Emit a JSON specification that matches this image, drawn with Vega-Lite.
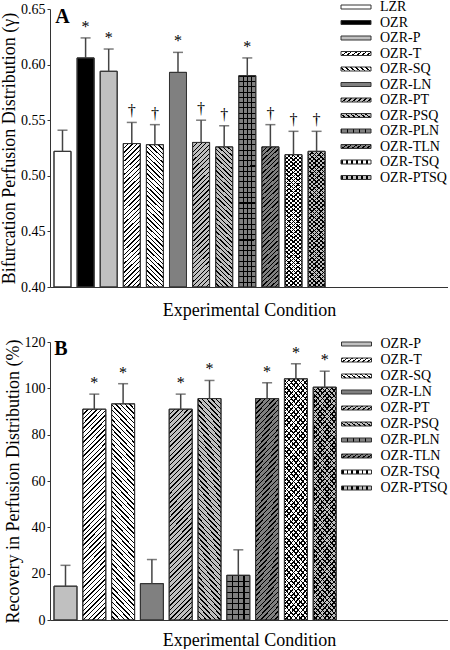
{
"$schema": "https://vega.github.io/schema/vega-lite/v6.json",
"padding": {"left": 0, "top": 0, "right": 0, "bottom": 0},
"bounds": "flush",
"spacing": 55,
"config": {"view": {"stroke": null}, "font": "Liberation Serif", "axis": {"grid": false}},
"params": [
{"name": "gS", "value": {"gradient": "linear", "x1": 0, "y1": 0, "x2": 0.1281, "y2": 1.1014, "stops": [
{"offset":0,"color":"#000"},{"offset":0.0083,"color":"#000"},{"offset":0.0083,"color":"#0000"},{"offset":0.0278,"color":"#0000"},
{"offset":0.0278,"color":"#000"},{"offset":0.0361,"color":"#000"},{"offset":0.0361,"color":"#0000"},{"offset":0.0556,"color":"#0000"},
{"offset":0.0556,"color":"#000"},{"offset":0.0639,"color":"#000"},{"offset":0.0639,"color":"#0000"},{"offset":0.0833,"color":"#0000"},
{"offset":0.0833,"color":"#000"},{"offset":0.0917,"color":"#000"},{"offset":0.0917,"color":"#0000"},{"offset":0.1111,"color":"#0000"},
{"offset":0.1111,"color":"#000"},{"offset":0.1194,"color":"#000"},{"offset":0.1194,"color":"#0000"},{"offset":0.1389,"color":"#0000"},
{"offset":0.1389,"color":"#000"},{"offset":0.1472,"color":"#000"},{"offset":0.1472,"color":"#0000"},{"offset":0.1667,"color":"#0000"},
{"offset":0.1667,"color":"#000"},{"offset":0.175,"color":"#000"},{"offset":0.175,"color":"#0000"},{"offset":0.1944,"color":"#0000"},
{"offset":0.1944,"color":"#000"},{"offset":0.2028,"color":"#000"},{"offset":0.2028,"color":"#0000"},{"offset":0.2222,"color":"#0000"},
{"offset":0.2222,"color":"#000"},{"offset":0.2306,"color":"#000"},{"offset":0.2306,"color":"#0000"},{"offset":0.25,"color":"#0000"},
{"offset":0.25,"color":"#000"},{"offset":0.2583,"color":"#000"},{"offset":0.2583,"color":"#0000"},{"offset":0.2778,"color":"#0000"},
{"offset":0.2778,"color":"#000"},{"offset":0.2861,"color":"#000"},{"offset":0.2861,"color":"#0000"},{"offset":0.3056,"color":"#0000"},
{"offset":0.3056,"color":"#000"},{"offset":0.3139,"color":"#000"},{"offset":0.3139,"color":"#0000"},{"offset":0.3333,"color":"#0000"},
{"offset":0.3333,"color":"#000"},{"offset":0.3417,"color":"#000"},{"offset":0.3417,"color":"#0000"},{"offset":0.3611,"color":"#0000"},
{"offset":0.3611,"color":"#000"},{"offset":0.3694,"color":"#000"},{"offset":0.3694,"color":"#0000"},{"offset":0.3889,"color":"#0000"},
{"offset":0.3889,"color":"#000"},{"offset":0.3972,"color":"#000"},{"offset":0.3972,"color":"#0000"},{"offset":0.4167,"color":"#0000"},
{"offset":0.4167,"color":"#000"},{"offset":0.425,"color":"#000"},{"offset":0.425,"color":"#0000"},{"offset":0.4444,"color":"#0000"},
{"offset":0.4444,"color":"#000"},{"offset":0.4528,"color":"#000"},{"offset":0.4528,"color":"#0000"},{"offset":0.4722,"color":"#0000"},
{"offset":0.4722,"color":"#000"},{"offset":0.4806,"color":"#000"},{"offset":0.4806,"color":"#0000"},{"offset":0.5,"color":"#0000"},
{"offset":0.5,"color":"#000"},{"offset":0.5083,"color":"#000"},{"offset":0.5083,"color":"#0000"},{"offset":0.5278,"color":"#0000"},
{"offset":0.5278,"color":"#000"},{"offset":0.5361,"color":"#000"},{"offset":0.5361,"color":"#0000"},{"offset":0.5556,"color":"#0000"},
{"offset":0.5556,"color":"#000"},{"offset":0.5639,"color":"#000"},{"offset":0.5639,"color":"#0000"},{"offset":0.5833,"color":"#0000"},
{"offset":0.5833,"color":"#000"},{"offset":0.5917,"color":"#000"},{"offset":0.5917,"color":"#0000"},{"offset":0.6111,"color":"#0000"},
{"offset":0.6111,"color":"#000"},{"offset":0.6194,"color":"#000"},{"offset":0.6194,"color":"#0000"},{"offset":0.6389,"color":"#0000"},
{"offset":0.6389,"color":"#000"},{"offset":0.6472,"color":"#000"},{"offset":0.6472,"color":"#0000"},{"offset":0.6667,"color":"#0000"},
{"offset":0.6667,"color":"#000"},{"offset":0.675,"color":"#000"},{"offset":0.675,"color":"#0000"},{"offset":0.6944,"color":"#0000"},
{"offset":0.6944,"color":"#000"},{"offset":0.7028,"color":"#000"},{"offset":0.7028,"color":"#0000"},{"offset":0.7222,"color":"#0000"},
{"offset":0.7222,"color":"#000"},{"offset":0.7306,"color":"#000"},{"offset":0.7306,"color":"#0000"},{"offset":0.75,"color":"#0000"},
{"offset":0.75,"color":"#000"},{"offset":0.7583,"color":"#000"},{"offset":0.7583,"color":"#0000"},{"offset":0.7778,"color":"#0000"},
{"offset":0.7778,"color":"#000"},{"offset":0.7861,"color":"#000"},{"offset":0.7861,"color":"#0000"},{"offset":0.8056,"color":"#0000"},
{"offset":0.8056,"color":"#000"},{"offset":0.8139,"color":"#000"},{"offset":0.8139,"color":"#0000"},{"offset":0.8333,"color":"#0000"},
{"offset":0.8333,"color":"#000"},{"offset":0.8417,"color":"#000"},{"offset":0.8417,"color":"#0000"},{"offset":0.8611,"color":"#0000"},
{"offset":0.8611,"color":"#000"},{"offset":0.8694,"color":"#000"},{"offset":0.8694,"color":"#0000"},{"offset":0.8889,"color":"#0000"},
{"offset":0.8889,"color":"#000"},{"offset":0.8972,"color":"#000"},{"offset":0.8972,"color":"#0000"},{"offset":0.9167,"color":"#0000"},
{"offset":0.9167,"color":"#000"},{"offset":0.925,"color":"#000"},{"offset":0.925,"color":"#0000"},{"offset":0.9444,"color":"#0000"},
{"offset":0.9444,"color":"#000"},{"offset":0.9528,"color":"#000"},{"offset":0.9528,"color":"#0000"},{"offset":0.9722,"color":"#0000"},
{"offset":0.9722,"color":"#000"},{"offset":0.9806,"color":"#000"},{"offset":0.9806,"color":"#0000"},{"offset":1,"color":"#0000"}
]}},
{"name": "gB", "expr": "{gradient:'linear',x1:1,y1:0,x2:0.8719,y2:1.1014,stops:gS.stops}"},
{"name": "gSB", "value": {"gradient": "linear", "x1": 0, "y1": 0, "x2": 0.1205, "y2": 1.0966, "stops": [
{"offset":0,"color":"#000"},{"offset":0.006,"color":"#000"},{"offset":0.006,"color":"#0000"},{"offset":0.02,"color":"#0000"},
{"offset":0.02,"color":"#000"},{"offset":0.026,"color":"#000"},{"offset":0.026,"color":"#0000"},{"offset":0.04,"color":"#0000"},
{"offset":0.04,"color":"#000"},{"offset":0.046,"color":"#000"},{"offset":0.046,"color":"#0000"},{"offset":0.06,"color":"#0000"},
{"offset":0.06,"color":"#000"},{"offset":0.066,"color":"#000"},{"offset":0.066,"color":"#0000"},{"offset":0.08,"color":"#0000"},
{"offset":0.08,"color":"#000"},{"offset":0.086,"color":"#000"},{"offset":0.086,"color":"#0000"},{"offset":0.1,"color":"#0000"},
{"offset":0.1,"color":"#000"},{"offset":0.106,"color":"#000"},{"offset":0.106,"color":"#0000"},{"offset":0.12,"color":"#0000"},
{"offset":0.12,"color":"#000"},{"offset":0.126,"color":"#000"},{"offset":0.126,"color":"#0000"},{"offset":0.14,"color":"#0000"},
{"offset":0.14,"color":"#000"},{"offset":0.146,"color":"#000"},{"offset":0.146,"color":"#0000"},{"offset":0.16,"color":"#0000"},
{"offset":0.16,"color":"#000"},{"offset":0.166,"color":"#000"},{"offset":0.166,"color":"#0000"},{"offset":0.18,"color":"#0000"},
{"offset":0.18,"color":"#000"},{"offset":0.186,"color":"#000"},{"offset":0.186,"color":"#0000"},{"offset":0.2,"color":"#0000"},
{"offset":0.2,"color":"#000"},{"offset":0.206,"color":"#000"},{"offset":0.206,"color":"#0000"},{"offset":0.22,"color":"#0000"},
{"offset":0.22,"color":"#000"},{"offset":0.226,"color":"#000"},{"offset":0.226,"color":"#0000"},{"offset":0.24,"color":"#0000"},
{"offset":0.24,"color":"#000"},{"offset":0.246,"color":"#000"},{"offset":0.246,"color":"#0000"},{"offset":0.26,"color":"#0000"},
{"offset":0.26,"color":"#000"},{"offset":0.266,"color":"#000"},{"offset":0.266,"color":"#0000"},{"offset":0.28,"color":"#0000"},
{"offset":0.28,"color":"#000"},{"offset":0.286,"color":"#000"},{"offset":0.286,"color":"#0000"},{"offset":0.3,"color":"#0000"},
{"offset":0.3,"color":"#000"},{"offset":0.306,"color":"#000"},{"offset":0.306,"color":"#0000"},{"offset":0.32,"color":"#0000"},
{"offset":0.32,"color":"#000"},{"offset":0.326,"color":"#000"},{"offset":0.326,"color":"#0000"},{"offset":0.34,"color":"#0000"},
{"offset":0.34,"color":"#000"},{"offset":0.346,"color":"#000"},{"offset":0.346,"color":"#0000"},{"offset":0.36,"color":"#0000"},
{"offset":0.36,"color":"#000"},{"offset":0.366,"color":"#000"},{"offset":0.366,"color":"#0000"},{"offset":0.38,"color":"#0000"},
{"offset":0.38,"color":"#000"},{"offset":0.386,"color":"#000"},{"offset":0.386,"color":"#0000"},{"offset":0.4,"color":"#0000"},
{"offset":0.4,"color":"#000"},{"offset":0.406,"color":"#000"},{"offset":0.406,"color":"#0000"},{"offset":0.42,"color":"#0000"},
{"offset":0.42,"color":"#000"},{"offset":0.426,"color":"#000"},{"offset":0.426,"color":"#0000"},{"offset":0.44,"color":"#0000"},
{"offset":0.44,"color":"#000"},{"offset":0.446,"color":"#000"},{"offset":0.446,"color":"#0000"},{"offset":0.46,"color":"#0000"},
{"offset":0.46,"color":"#000"},{"offset":0.466,"color":"#000"},{"offset":0.466,"color":"#0000"},{"offset":0.48,"color":"#0000"},
{"offset":0.48,"color":"#000"},{"offset":0.486,"color":"#000"},{"offset":0.486,"color":"#0000"},{"offset":0.5,"color":"#0000"},
{"offset":0.5,"color":"#000"},{"offset":0.506,"color":"#000"},{"offset":0.506,"color":"#0000"},{"offset":0.52,"color":"#0000"},
{"offset":0.52,"color":"#000"},{"offset":0.526,"color":"#000"},{"offset":0.526,"color":"#0000"},{"offset":0.54,"color":"#0000"},
{"offset":0.54,"color":"#000"},{"offset":0.546,"color":"#000"},{"offset":0.546,"color":"#0000"},{"offset":0.56,"color":"#0000"},
{"offset":0.56,"color":"#000"},{"offset":0.566,"color":"#000"},{"offset":0.566,"color":"#0000"},{"offset":0.58,"color":"#0000"},
{"offset":0.58,"color":"#000"},{"offset":0.586,"color":"#000"},{"offset":0.586,"color":"#0000"},{"offset":0.6,"color":"#0000"},
{"offset":0.6,"color":"#000"},{"offset":0.606,"color":"#000"},{"offset":0.606,"color":"#0000"},{"offset":0.62,"color":"#0000"},
{"offset":0.62,"color":"#000"},{"offset":0.626,"color":"#000"},{"offset":0.626,"color":"#0000"},{"offset":0.64,"color":"#0000"},
{"offset":0.64,"color":"#000"},{"offset":0.646,"color":"#000"},{"offset":0.646,"color":"#0000"},{"offset":0.66,"color":"#0000"},
{"offset":0.66,"color":"#000"},{"offset":0.666,"color":"#000"},{"offset":0.666,"color":"#0000"},{"offset":0.68,"color":"#0000"},
{"offset":0.68,"color":"#000"},{"offset":0.686,"color":"#000"},{"offset":0.686,"color":"#0000"},{"offset":0.7,"color":"#0000"},
{"offset":0.7,"color":"#000"},{"offset":0.706,"color":"#000"},{"offset":0.706,"color":"#0000"},{"offset":0.72,"color":"#0000"},
{"offset":0.72,"color":"#000"},{"offset":0.726,"color":"#000"},{"offset":0.726,"color":"#0000"},{"offset":0.74,"color":"#0000"},
{"offset":0.74,"color":"#000"},{"offset":0.746,"color":"#000"},{"offset":0.746,"color":"#0000"},{"offset":0.76,"color":"#0000"},
{"offset":0.76,"color":"#000"},{"offset":0.766,"color":"#000"},{"offset":0.766,"color":"#0000"},{"offset":0.78,"color":"#0000"},
{"offset":0.78,"color":"#000"},{"offset":0.786,"color":"#000"},{"offset":0.786,"color":"#0000"},{"offset":0.8,"color":"#0000"},
{"offset":0.8,"color":"#000"},{"offset":0.806,"color":"#000"},{"offset":0.806,"color":"#0000"},{"offset":0.82,"color":"#0000"},
{"offset":0.82,"color":"#000"},{"offset":0.826,"color":"#000"},{"offset":0.826,"color":"#0000"},{"offset":0.84,"color":"#0000"},
{"offset":0.84,"color":"#000"},{"offset":0.846,"color":"#000"},{"offset":0.846,"color":"#0000"},{"offset":0.86,"color":"#0000"},
{"offset":0.86,"color":"#000"},{"offset":0.866,"color":"#000"},{"offset":0.866,"color":"#0000"},{"offset":0.88,"color":"#0000"},
{"offset":0.88,"color":"#000"},{"offset":0.886,"color":"#000"},{"offset":0.886,"color":"#0000"},{"offset":0.9,"color":"#0000"},
{"offset":0.9,"color":"#000"},{"offset":0.906,"color":"#000"},{"offset":0.906,"color":"#0000"},{"offset":0.92,"color":"#0000"},
{"offset":0.92,"color":"#000"},{"offset":0.926,"color":"#000"},{"offset":0.926,"color":"#0000"},{"offset":0.94,"color":"#0000"},
{"offset":0.94,"color":"#000"},{"offset":0.946,"color":"#000"},{"offset":0.946,"color":"#0000"},{"offset":0.96,"color":"#0000"},
{"offset":0.96,"color":"#000"},{"offset":0.966,"color":"#000"},{"offset":0.966,"color":"#0000"},{"offset":0.98,"color":"#0000"},
{"offset":0.98,"color":"#000"},{"offset":0.986,"color":"#000"},{"offset":0.986,"color":"#0000"},{"offset":1,"color":"#0000"}
]}},
{"name": "gBB", "expr": "{gradient:'linear',x1:1,y1:0,x2:0.8795,y2:1.0966,stops:gSB.stops}"},
{"name": "gV", "value": {"gradient": "linear", "x1": 0, "y1": 0, "x2": 1, "y2": 0, "stops": [
{"offset":0,"color":"#0000"},{"offset":0.22,"color":"#0000"},{"offset":0.22,"color":"#000"},{"offset":0.28,"color":"#000"},{"offset":0.28,"color":"#0000"},
{"offset":0.47,"color":"#0000"},{"offset":0.47,"color":"#000"},{"offset":0.53,"color":"#000"},{"offset":0.53,"color":"#0000"},
{"offset":0.72,"color":"#0000"},{"offset":0.72,"color":"#000"},{"offset":0.78,"color":"#000"},{"offset":0.78,"color":"#0000"},{"offset":1,"color":"#0000"}
]}},
{"name": "gHA", "value": {"gradient": "linear", "x1": 0, "y1": 0, "x2": 0.0001, "y2": 1, "stops": [
{"offset":0,"color":"#000"},{"offset":0.005,"color":"#000"},{"offset":0.005,"color":"#0000"},{"offset":0.025,"color":"#0000"},
{"offset":0.025,"color":"#000"},{"offset":0.03,"color":"#000"},{"offset":0.03,"color":"#0000"},{"offset":0.05,"color":"#0000"},
{"offset":0.05,"color":"#000"},{"offset":0.055,"color":"#000"},{"offset":0.055,"color":"#0000"},{"offset":0.075,"color":"#0000"},
{"offset":0.075,"color":"#000"},{"offset":0.08,"color":"#000"},{"offset":0.08,"color":"#0000"},{"offset":0.1,"color":"#0000"},
{"offset":0.1,"color":"#000"},{"offset":0.105,"color":"#000"},{"offset":0.105,"color":"#0000"},{"offset":0.125,"color":"#0000"},
{"offset":0.125,"color":"#000"},{"offset":0.13,"color":"#000"},{"offset":0.13,"color":"#0000"},{"offset":0.15,"color":"#0000"},
{"offset":0.15,"color":"#000"},{"offset":0.155,"color":"#000"},{"offset":0.155,"color":"#0000"},{"offset":0.175,"color":"#0000"},
{"offset":0.175,"color":"#000"},{"offset":0.18,"color":"#000"},{"offset":0.18,"color":"#0000"},{"offset":0.2,"color":"#0000"},
{"offset":0.2,"color":"#000"},{"offset":0.205,"color":"#000"},{"offset":0.205,"color":"#0000"},{"offset":0.225,"color":"#0000"},
{"offset":0.225,"color":"#000"},{"offset":0.23,"color":"#000"},{"offset":0.23,"color":"#0000"},{"offset":0.25,"color":"#0000"},
{"offset":0.25,"color":"#000"},{"offset":0.255,"color":"#000"},{"offset":0.255,"color":"#0000"},{"offset":0.275,"color":"#0000"},
{"offset":0.275,"color":"#000"},{"offset":0.28,"color":"#000"},{"offset":0.28,"color":"#0000"},{"offset":0.3,"color":"#0000"},
{"offset":0.3,"color":"#000"},{"offset":0.305,"color":"#000"},{"offset":0.305,"color":"#0000"},{"offset":0.325,"color":"#0000"},
{"offset":0.325,"color":"#000"},{"offset":0.33,"color":"#000"},{"offset":0.33,"color":"#0000"},{"offset":0.35,"color":"#0000"},
{"offset":0.35,"color":"#000"},{"offset":0.355,"color":"#000"},{"offset":0.355,"color":"#0000"},{"offset":0.375,"color":"#0000"},
{"offset":0.375,"color":"#000"},{"offset":0.38,"color":"#000"},{"offset":0.38,"color":"#0000"},{"offset":0.4,"color":"#0000"},
{"offset":0.4,"color":"#000"},{"offset":0.405,"color":"#000"},{"offset":0.405,"color":"#0000"},{"offset":0.425,"color":"#0000"},
{"offset":0.425,"color":"#000"},{"offset":0.43,"color":"#000"},{"offset":0.43,"color":"#0000"},{"offset":0.45,"color":"#0000"},
{"offset":0.45,"color":"#000"},{"offset":0.455,"color":"#000"},{"offset":0.455,"color":"#0000"},{"offset":0.475,"color":"#0000"},
{"offset":0.475,"color":"#000"},{"offset":0.48,"color":"#000"},{"offset":0.48,"color":"#0000"},{"offset":0.5,"color":"#0000"},
{"offset":0.5,"color":"#000"},{"offset":0.505,"color":"#000"},{"offset":0.505,"color":"#0000"},{"offset":0.525,"color":"#0000"},
{"offset":0.525,"color":"#000"},{"offset":0.53,"color":"#000"},{"offset":0.53,"color":"#0000"},{"offset":0.55,"color":"#0000"},
{"offset":0.55,"color":"#000"},{"offset":0.555,"color":"#000"},{"offset":0.555,"color":"#0000"},{"offset":0.575,"color":"#0000"},
{"offset":0.575,"color":"#000"},{"offset":0.58,"color":"#000"},{"offset":0.58,"color":"#0000"},{"offset":0.6,"color":"#0000"},
{"offset":0.6,"color":"#000"},{"offset":0.605,"color":"#000"},{"offset":0.605,"color":"#0000"},{"offset":0.625,"color":"#0000"},
{"offset":0.625,"color":"#000"},{"offset":0.63,"color":"#000"},{"offset":0.63,"color":"#0000"},{"offset":0.65,"color":"#0000"},
{"offset":0.65,"color":"#000"},{"offset":0.655,"color":"#000"},{"offset":0.655,"color":"#0000"},{"offset":0.675,"color":"#0000"},
{"offset":0.675,"color":"#000"},{"offset":0.68,"color":"#000"},{"offset":0.68,"color":"#0000"},{"offset":0.7,"color":"#0000"},
{"offset":0.7,"color":"#000"},{"offset":0.705,"color":"#000"},{"offset":0.705,"color":"#0000"},{"offset":0.725,"color":"#0000"},
{"offset":0.725,"color":"#000"},{"offset":0.73,"color":"#000"},{"offset":0.73,"color":"#0000"},{"offset":0.75,"color":"#0000"},
{"offset":0.75,"color":"#000"},{"offset":0.755,"color":"#000"},{"offset":0.755,"color":"#0000"},{"offset":0.775,"color":"#0000"},
{"offset":0.775,"color":"#000"},{"offset":0.78,"color":"#000"},{"offset":0.78,"color":"#0000"},{"offset":0.8,"color":"#0000"},
{"offset":0.8,"color":"#000"},{"offset":0.805,"color":"#000"},{"offset":0.805,"color":"#0000"},{"offset":0.825,"color":"#0000"},
{"offset":0.825,"color":"#000"},{"offset":0.83,"color":"#000"},{"offset":0.83,"color":"#0000"},{"offset":0.85,"color":"#0000"},
{"offset":0.85,"color":"#000"},{"offset":0.855,"color":"#000"},{"offset":0.855,"color":"#0000"},{"offset":0.875,"color":"#0000"},
{"offset":0.875,"color":"#000"},{"offset":0.88,"color":"#000"},{"offset":0.88,"color":"#0000"},{"offset":0.9,"color":"#0000"},
{"offset":0.9,"color":"#000"},{"offset":0.905,"color":"#000"},{"offset":0.905,"color":"#0000"},{"offset":0.925,"color":"#0000"},
{"offset":0.925,"color":"#000"},{"offset":0.93,"color":"#000"},{"offset":0.93,"color":"#0000"},{"offset":0.95,"color":"#0000"},
{"offset":0.95,"color":"#000"},{"offset":0.955,"color":"#000"},{"offset":0.955,"color":"#0000"},{"offset":0.975,"color":"#0000"},
{"offset":0.975,"color":"#000"},{"offset":0.98,"color":"#000"},{"offset":0.98,"color":"#0000"},{"offset":1,"color":"#0000"}
]}},
{"name": "gHB", "value": {"gradient": "linear", "x1": 0, "y1": 0, "x2": 0.0001, "y2": 1, "stops": [
{"offset":0,"color":"#000"},{"offset":0.0225,"color":"#000"},{"offset":0.0225,"color":"#0000"},{"offset":0.125,"color":"#0000"},
{"offset":0.125,"color":"#000"},{"offset":0.1475,"color":"#000"},{"offset":0.1475,"color":"#0000"},{"offset":0.25,"color":"#0000"},
{"offset":0.25,"color":"#000"},{"offset":0.2725,"color":"#000"},{"offset":0.2725,"color":"#0000"},{"offset":0.375,"color":"#0000"},
{"offset":0.375,"color":"#000"},{"offset":0.3975,"color":"#000"},{"offset":0.3975,"color":"#0000"},{"offset":0.5,"color":"#0000"},
{"offset":0.5,"color":"#000"},{"offset":0.5225,"color":"#000"},{"offset":0.5225,"color":"#0000"},{"offset":0.625,"color":"#0000"},
{"offset":0.625,"color":"#000"},{"offset":0.6475,"color":"#000"},{"offset":0.6475,"color":"#0000"},{"offset":0.75,"color":"#0000"},
{"offset":0.75,"color":"#000"},{"offset":0.7725,"color":"#000"},{"offset":0.7725,"color":"#0000"},{"offset":0.875,"color":"#0000"},
{"offset":0.875,"color":"#000"},{"offset":0.8975,"color":"#000"},{"offset":0.8975,"color":"#0000"},{"offset":1,"color":"#0000"}
]}},
{"name": "lT", "value": {"gradient": "linear", "x1": 0, "y1": 0, "x2": 1.1351, "y2": 0.1892, "stops": [
{"offset":0,"color":"#000"},{"offset":0.05,"color":"#000"},{"offset":0.05,"color":"#fff"},{"offset":0.1429,"color":"#fff"},
{"offset":0.1429,"color":"#000"},{"offset":0.1929,"color":"#000"},{"offset":0.1929,"color":"#fff"},{"offset":0.2857,"color":"#fff"},
{"offset":0.2857,"color":"#000"},{"offset":0.3357,"color":"#000"},{"offset":0.3357,"color":"#fff"},{"offset":0.4286,"color":"#fff"},
{"offset":0.4286,"color":"#000"},{"offset":0.4786,"color":"#000"},{"offset":0.4786,"color":"#fff"},{"offset":0.5714,"color":"#fff"},
{"offset":0.5714,"color":"#000"},{"offset":0.6214,"color":"#000"},{"offset":0.6214,"color":"#fff"},{"offset":0.7143,"color":"#fff"},
{"offset":0.7143,"color":"#000"},{"offset":0.7643,"color":"#000"},{"offset":0.7643,"color":"#fff"},{"offset":0.8571,"color":"#fff"},
{"offset":0.8571,"color":"#000"},{"offset":0.9071,"color":"#000"},{"offset":0.9071,"color":"#fff"},{"offset":1,"color":"#fff"}
]}},
{"name": "lSQ", "expr": "{gradient:'linear',x1:1,y1:0,x2:-0.1351,y2:0.1892,stops:lT.stops}"},
{"name": "lPT", "value": {"gradient": "linear", "x1": 0, "y1": 0, "x2": 1.1351, "y2": 0.1892, "stops": [
{"offset":0,"color":"#000"},{"offset":0.05,"color":"#000"},{"offset":0.05,"color":"#c0c0c0"},{"offset":0.1429,"color":"#c0c0c0"},
{"offset":0.1429,"color":"#000"},{"offset":0.1929,"color":"#000"},{"offset":0.1929,"color":"#c0c0c0"},{"offset":0.2857,"color":"#c0c0c0"},
{"offset":0.2857,"color":"#000"},{"offset":0.3357,"color":"#000"},{"offset":0.3357,"color":"#c0c0c0"},{"offset":0.4286,"color":"#c0c0c0"},
{"offset":0.4286,"color":"#000"},{"offset":0.4786,"color":"#000"},{"offset":0.4786,"color":"#c0c0c0"},{"offset":0.5714,"color":"#c0c0c0"},
{"offset":0.5714,"color":"#000"},{"offset":0.6214,"color":"#000"},{"offset":0.6214,"color":"#c0c0c0"},{"offset":0.7143,"color":"#c0c0c0"},
{"offset":0.7143,"color":"#000"},{"offset":0.7643,"color":"#000"},{"offset":0.7643,"color":"#c0c0c0"},{"offset":0.8571,"color":"#c0c0c0"},
{"offset":0.8571,"color":"#000"},{"offset":0.9071,"color":"#000"},{"offset":0.9071,"color":"#c0c0c0"},{"offset":1,"color":"#c0c0c0"}
]}},
{"name": "lPSQ", "expr": "{gradient:'linear',x1:1,y1:0,x2:-0.1351,y2:0.1892,stops:lPT.stops}"},
{"name": "lTLN", "value": {"gradient": "linear", "x1": 0, "y1": 0, "x2": 1.1351, "y2": 0.1892, "stops": [
{"offset":0,"color":"#000"},{"offset":0.05,"color":"#000"},{"offset":0.05,"color":"#808080"},{"offset":0.1429,"color":"#808080"},
{"offset":0.1429,"color":"#000"},{"offset":0.1929,"color":"#000"},{"offset":0.1929,"color":"#808080"},{"offset":0.2857,"color":"#808080"},
{"offset":0.2857,"color":"#000"},{"offset":0.3357,"color":"#000"},{"offset":0.3357,"color":"#808080"},{"offset":0.4286,"color":"#808080"},
{"offset":0.4286,"color":"#000"},{"offset":0.4786,"color":"#000"},{"offset":0.4786,"color":"#808080"},{"offset":0.5714,"color":"#808080"},
{"offset":0.5714,"color":"#000"},{"offset":0.6214,"color":"#000"},{"offset":0.6214,"color":"#808080"},{"offset":0.7143,"color":"#808080"},
{"offset":0.7143,"color":"#000"},{"offset":0.7643,"color":"#000"},{"offset":0.7643,"color":"#808080"},{"offset":0.8571,"color":"#808080"},
{"offset":0.8571,"color":"#000"},{"offset":0.9071,"color":"#000"},{"offset":0.9071,"color":"#808080"},{"offset":1,"color":"#808080"}
]}},
{"name": "lTSQ", "value": {"gradient": "linear", "x1": 0, "y1": 0, "x2": 1, "y2": 0, "stops": [
{"offset":0,"color":"#000"},{"offset":0.0667,"color":"#000"},{"offset":0.0667,"color":"#fff"},{"offset":0.1667,"color":"#fff"},
{"offset":0.1667,"color":"#000"},{"offset":0.2333,"color":"#000"},{"offset":0.2333,"color":"#fff"},{"offset":0.3333,"color":"#fff"},
{"offset":0.3333,"color":"#000"},{"offset":0.4,"color":"#000"},{"offset":0.4,"color":"#fff"},{"offset":0.5,"color":"#fff"},
{"offset":0.5,"color":"#000"},{"offset":0.5667,"color":"#000"},{"offset":0.5667,"color":"#fff"},{"offset":0.6667,"color":"#fff"},
{"offset":0.6667,"color":"#000"},{"offset":0.7333,"color":"#000"},{"offset":0.7333,"color":"#fff"},{"offset":0.8333,"color":"#fff"},
{"offset":0.8333,"color":"#000"},{"offset":0.9,"color":"#000"},{"offset":0.9,"color":"#fff"},{"offset":1,"color":"#fff"}
]}},
{"name": "lPTSQ", "value": {"gradient": "linear", "x1": 0, "y1": 0, "x2": 1, "y2": 0, "stops": [
{"offset":0,"color":"#000"},{"offset":0.0667,"color":"#000"},{"offset":0.0667,"color":"#c0c0c0"},{"offset":0.1667,"color":"#c0c0c0"},
{"offset":0.1667,"color":"#000"},{"offset":0.2333,"color":"#000"},{"offset":0.2333,"color":"#c0c0c0"},{"offset":0.3333,"color":"#c0c0c0"},
{"offset":0.3333,"color":"#000"},{"offset":0.4,"color":"#000"},{"offset":0.4,"color":"#c0c0c0"},{"offset":0.5,"color":"#c0c0c0"},
{"offset":0.5,"color":"#000"},{"offset":0.5667,"color":"#000"},{"offset":0.5667,"color":"#c0c0c0"},{"offset":0.6667,"color":"#c0c0c0"},
{"offset":0.6667,"color":"#000"},{"offset":0.7333,"color":"#000"},{"offset":0.7333,"color":"#c0c0c0"},{"offset":0.8333,"color":"#c0c0c0"},
{"offset":0.8333,"color":"#000"},{"offset":0.9,"color":"#000"},{"offset":0.9,"color":"#c0c0c0"},{"offset":1,"color":"#c0c0c0"}
]}},
{"name": "lPLN", "value": {"gradient": "linear", "x1": 0, "y1": 0, "x2": 1, "y2": 0, "stops": [
{"offset":0,"color":"#000"},{"offset":0.03,"color":"#000"},{"offset":0.03,"color":"#808080"},{"offset":0.2,"color":"#808080"},
{"offset":0.2,"color":"#000"},{"offset":0.23,"color":"#000"},{"offset":0.23,"color":"#808080"},{"offset":0.4,"color":"#808080"},
{"offset":0.4,"color":"#000"},{"offset":0.43,"color":"#000"},{"offset":0.43,"color":"#808080"},{"offset":0.6,"color":"#808080"},
{"offset":0.6,"color":"#000"},{"offset":0.63,"color":"#000"},{"offset":0.63,"color":"#808080"},{"offset":0.8,"color":"#808080"},
{"offset":0.8,"color":"#000"},{"offset":0.83,"color":"#000"},{"offset":0.83,"color":"#808080"},{"offset":1,"color":"#808080"}
]}}
],
"datasets": {
"A": [
{"cond":"LZR","mean":0.522,"upper":0.541,"sig":""},
{"cond":"OZR","mean":0.606,"upper":0.624,"sig":"*"},
{"cond":"OZR-P","mean":0.594,"upper":0.614,"sig":"*"},
{"cond":"OZR-T","mean":0.529,"upper":0.548,"sig":"†"},
{"cond":"OZR-SQ","mean":0.528,"upper":0.546,"sig":"†"},
{"cond":"OZR-LN","mean":0.593,"upper":0.611,"sig":"*"},
{"cond":"OZR-PT","mean":0.530,"upper":0.550,"sig":"†"},
{"cond":"OZR-PSQ","mean":0.526,"upper":0.545,"sig":"†"},
{"cond":"OZR-PLN","mean":0.590,"upper":0.606,"sig":"*"},
{"cond":"OZR-TLN","mean":0.526,"upper":0.546,"sig":"†"},
{"cond":"OZR-TSQ","mean":0.519,"upper":0.540,"sig":"†"},
{"cond":"OZR-PTSQ","mean":0.522,"upper":0.540,"sig":"†"}
],
"B": [
{"cond":"OZR-P","mean":14.6,"upper":23.6,"sig":""},
{"cond":"OZR-T","mean":91.0,"upper":97.5,"sig":"*"},
{"cond":"OZR-SQ","mean":93.3,"upper":102.0,"sig":"*"},
{"cond":"OZR-LN","mean":15.7,"upper":26.1,"sig":""},
{"cond":"OZR-PT","mean":91.0,"upper":97.5,"sig":"*"},
{"cond":"OZR-PSQ","mean":95.6,"upper":103.4,"sig":"*"},
{"cond":"OZR-PLN","mean":19.3,"upper":30.3,"sig":""},
{"cond":"OZR-TLN","mean":95.6,"upper":102.4,"sig":"*"},
{"cond":"OZR-TSQ","mean":104.1,"upper":110.6,"sig":"*"},
{"cond":"OZR-PTSQ","mean":100.5,"upper":107.4,"sig":"*"}
]
},
"resolve": {"scale": {"x": "independent", "y": "independent", "stroke": "independent"}, "legend": {"stroke": "independent"}},
"vconcat": [
{
"data": {"name": "A"},
"width": 398, "height": 278,
"encoding": {
"x": {"field": "cond", "type": "nominal", "scale": {"domain": ["LZR","OZR","OZR-P","OZR-T","OZR-SQ","OZR-LN","OZR-PT","OZR-PSQ","OZR-PLN","OZR-TLN","OZR-TSQ","OZR-PTSQ","_1","_2","_3","_4","_5"], "paddingInner": 0.264, "paddingOuter": 0.247, "align": 0.35},
"axis": {"title": "Experimental Condition", "labels": false, "ticks": false, "domainColor": "#333", "titleFont": "Liberation Serif", "titleFontSize": 18, "titleFontWeight": "normal", "titleColor": "#000", "titlePadding": 14}}
},
"layer": [
{"mark": {"type": "bar", "strokeWidth": 1, "fill": {"expr": "datum.cond ? (datum.cond==='OZR' ? '#000' : indexof(['OZR-LN','OZR-PLN','OZR-TLN'],datum.cond)>=0 ? '#808080' : indexof(['OZR-P','OZR-PT','OZR-PSQ','OZR-PTSQ'],datum.cond)>=0 ? '#c0c0c0' : '#fff') : (datum.value==='OZR-T'?lT:datum.value==='OZR-SQ'?lSQ:datum.value==='OZR-PT'?lPT:datum.value==='OZR-PSQ'?lPSQ:datum.value==='OZR-TLN'?lTLN:datum.value==='OZR-TSQ'?lTSQ:datum.value==='OZR-PTSQ'?lPTSQ:datum.value==='OZR-PLN'?lPLN:datum.value==='OZR'?'#000':datum.value==='LZR'?'#fff':datum.value==='OZR-LN'?'#808080':'#c0c0c0')"}},
"encoding": {
"y": {"field": "mean", "type": "quantitative", "title": "Bifurcation Perfusion Distribution (γ)", "scale": {"domain": [0.4, 0.65], "zero": false, "nice": false},
"axis": {"values": [0.4, 0.45, 0.5, 0.55, 0.6, 0.65], "format": ".2f", "tickSize": 3, "tickColor": "#333", "domainColor": "#333", "labelFont": "Liberation Serif", "labelFontSize": 14, "labelColor": "#000", "labelPadding": 2, "titleFont": "Liberation Serif", "titleFontSize": 18, "titleFontWeight": "normal", "titleColor": "#000", "titlePadding": 2}},
"y2": {"datum": 0.4},
"stroke": {"field": "cond", "type": "nominal",
"scale": {"domain": ["LZR","OZR","OZR-P","OZR-T","OZR-SQ","OZR-LN","OZR-PT","OZR-PSQ","OZR-PLN","OZR-TLN","OZR-TSQ","OZR-PTSQ"], "range": ["#333333"]},
"legend": {"title": null, "orient": "none", "legendX": 291, "legendY": -9, "symbolType": "M-6,-0.8H6V0.8H-6Z", "symbolSize": 25, "symbolOpacity": 1, "symbolStrokeWidth": 1, "symbolOffset": 8, "labelOffset": 17, "labelFont": "Liberation Serif", "labelFontSize": 14, "labelColor": "#000", "rowPadding": 1.5, "padding": 0}}
}},
{"mark": {"type": "bar", "fill": {"expr": "indexof(['OZR-T','OZR-PT','OZR-TLN','OZR-TSQ','OZR-PTSQ'],datum.cond)>=0?gS:indexof(['OZR-SQ','OZR-PSQ'],datum.cond)>=0?gB:datum.cond==='OZR-PLN'?gV:'#0000'"}},
"encoding": {"y": {"field": "mean", "type": "quantitative", "title": "Bifurcation Perfusion Distribution (γ)"}, "y2": {"datum": 0.4}}},
{"mark": {"type": "bar", "fill": {"expr": "(datum.cond==='OZR-TSQ'||datum.cond==='OZR-PTSQ')?gB:datum.cond==='OZR-PLN'?gHA:'#0000'"}, "stroke": "#333", "strokeWidth": 1},
"encoding": {"y": {"field": "mean", "type": "quantitative", "title": "Bifurcation Perfusion Distribution (γ)"}, "y2": {"datum": 0.4}}},
{"mark": {"type": "rule", "color": "#444", "strokeWidth": 1.5},
"encoding": {"y": {"field": "mean", "type": "quantitative", "title": "Bifurcation Perfusion Distribution (γ)"}, "y2": {"field": "upper"}}},
{"mark": {"type": "tick", "color": "#444", "thickness": 1.5, "size": 10},
"encoding": {"y": {"field": "upper", "type": "quantitative", "title": "Bifurcation Perfusion Distribution (γ)"}}},
{"mark": {"type": "text", "font": "Liberation Serif", "fontSize": 16, "baseline": "alphabetic", "dy": -6, "color": "#000"},
"encoding": {"y": {"field": "upper", "type": "quantitative", "title": "Bifurcation Perfusion Distribution (γ)"}, "text": {"field": "sig"}}},
{"data": {"values": [{"label": "A"}]},
"mark": {"type": "text", "font": "Liberation Serif", "fontSize": 20, "fontWeight": "bold", "baseline": "alphabetic", "align": "center", "dy": 14, "color": "#000"},
"encoding": {"x": {"datum": "LZR"}, "y": {"datum": 0.65, "type": "quantitative"}, "text": {"field": "label"}}}
]
},
{
"data": {"name": "B"},
"width": 398, "height": 278,
"encoding": {
"x": {"field": "cond", "type": "nominal", "scale": {"domain": ["OZR-P","OZR-T","OZR-SQ","OZR-LN","OZR-PT","OZR-PSQ","OZR-PLN","OZR-TLN","OZR-TSQ","OZR-PTSQ","_1","_2","_3"], "paddingInner": 0.2014, "paddingOuter": 0.51, "align": 0.136},
"axis": {"title": "Experimental Condition", "labels": false, "ticks": false, "domainColor": "#333", "titleFont": "Liberation Serif", "titleFontSize": 18, "titleFontWeight": "normal", "titleColor": "#000", "titlePadding": 11}}
},
"layer": [
{"mark": {"type": "bar", "strokeWidth": 1, "fill": {"expr": "datum.cond ? (indexof(['OZR-LN','OZR-PLN','OZR-TLN'],datum.cond)>=0 ? '#808080' : indexof(['OZR-P','OZR-PT','OZR-PSQ','OZR-PTSQ'],datum.cond)>=0 ? '#c0c0c0' : '#fff') : (datum.value==='OZR-T'?lT:datum.value==='OZR-SQ'?lSQ:datum.value==='OZR-PT'?lPT:datum.value==='OZR-PSQ'?lPSQ:datum.value==='OZR-TLN'?lTLN:datum.value==='OZR-TSQ'?lTSQ:datum.value==='OZR-PTSQ'?lPTSQ:datum.value==='OZR-PLN'?lPLN:datum.value==='OZR-LN'?'#808080':'#c0c0c0')"}},
"encoding": {
"y": {"field": "mean", "type": "quantitative", "title": "Recovery in Perfusion Distribution (%)", "scale": {"domain": [0, 120], "nice": false},
"axis": {"values": [0, 20, 40, 60, 80, 100, 120], "tickSize": 3, "tickColor": "#333", "domainColor": "#333", "labelFont": "Liberation Serif", "labelFontSize": 14, "labelColor": "#000", "labelPadding": 2, "titleFont": "Liberation Serif", "titleFontSize": 18, "titleFontWeight": "normal", "titleColor": "#000", "titlePadding": 2}},
"y2": {"datum": 0},
"stroke": {"field": "cond", "type": "nominal",
"scale": {"domain": ["OZR-P","OZR-T","OZR-SQ","OZR-LN","OZR-PT","OZR-PSQ","OZR-PLN","OZR-TLN","OZR-TSQ","OZR-PTSQ"], "range": ["#333333"]},
"legend": {"title": null, "orient": "none", "legendX": 291.5, "legendY": -5, "symbolType": "M-6,-0.8H6V0.8H-6Z", "symbolSize": 25, "symbolOpacity": 1, "symbolStrokeWidth": 1, "symbolOffset": 8, "labelOffset": 17, "labelFont": "Liberation Serif", "labelFontSize": 14, "labelColor": "#000", "rowPadding": 2, "padding": 0}}
}},
{"mark": {"type": "bar", "fill": {"expr": "indexof(['OZR-T','OZR-PT','OZR-TLN','OZR-TSQ','OZR-PTSQ'],datum.cond)>=0?gSB:indexof(['OZR-SQ','OZR-PSQ'],datum.cond)>=0?gBB:datum.cond==='OZR-PLN'?gV:'#0000'"}},
"encoding": {"y": {"field": "mean", "type": "quantitative", "title": "Recovery in Perfusion Distribution (%)"}, "y2": {"datum": 0}}},
{"mark": {"type": "bar", "fill": {"expr": "(datum.cond==='OZR-TSQ'||datum.cond==='OZR-PTSQ')?gBB:datum.cond==='OZR-PLN'?gHB:'#0000'"}, "stroke": "#333", "strokeWidth": 1},
"encoding": {"y": {"field": "mean", "type": "quantitative", "title": "Recovery in Perfusion Distribution (%)"}, "y2": {"datum": 0}}},
{"mark": {"type": "rule", "color": "#444", "strokeWidth": 1.5},
"encoding": {"y": {"field": "mean", "type": "quantitative", "title": "Recovery in Perfusion Distribution (%)"}, "y2": {"field": "upper"}}},
{"mark": {"type": "tick", "color": "#444", "thickness": 1.5, "size": 10},
"encoding": {"y": {"field": "upper", "type": "quantitative", "title": "Recovery in Perfusion Distribution (%)"}}},
{"mark": {"type": "text", "font": "Liberation Serif", "fontSize": 16, "baseline": "alphabetic", "dy": -6, "color": "#000"},
"encoding": {"y": {"field": "upper", "type": "quantitative", "title": "Recovery in Perfusion Distribution (%)"}, "text": {"field": "sig"}}},
{"data": {"values": [{"label": "B"}]},
"mark": {"type": "text", "font": "Liberation Serif", "fontSize": 20, "fontWeight": "bold", "baseline": "alphabetic", "align": "center", "dx": -4.5, "dy": 13, "color": "#000"},
"encoding": {"x": {"datum": "OZR-P"}, "y": {"datum": 120, "type": "quantitative"}, "text": {"field": "label"}}}
]
}
]
}
